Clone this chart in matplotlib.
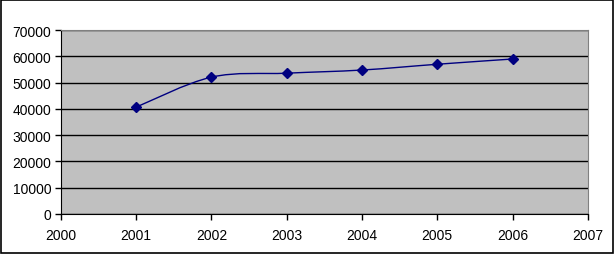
import numpy as np
import matplotlib
matplotlib.use('Agg')
import matplotlib.pyplot as plt
from matplotlib.path import Path
from matplotlib.patches import PathPatch, Rectangle

years = [2001, 2002, 2003, 2004, 2005, 2006]
values = [40700, 52100, 53600, 54800, 57000, 59000]
x_ticks = [2000, 2001, 2002, 2003, 2004, 2005, 2006, 2007]
y_ticks = [0, 10000, 20000, 30000, 40000, 50000, 60000, 70000]

plt.rcParams['font.family'] = ['Liberation Sans', 'DejaVu Sans']

fig = plt.figure(figsize=(6.14, 2.55), dpi=100)
fig.patches.append(Rectangle((0.001, 0.002), 0.997, 0.994, transform=fig.transFigure,
                             fill=False, edgecolor='black', linewidth=1.2))
ax = fig.add_axes([0.0993, 0.157, 0.858, 0.721])
ax.set_facecolor('#c0c0c0')

# smoothed line like Excel (Catmull-Rom as cubic bezier segments)
x = np.array(years, dtype=float)
y = np.array(values, dtype=float)
verts = [(x[0], y[0])]
codes = [Path.MOVETO]
t = 1.0 / 6.0
for i in range(len(x) - 1):
    x0, y0 = (x[i - 1], y[i - 1]) if i > 0 else (x[i], y[i])
    x3, y3 = (x[i + 2], y[i + 2]) if i + 2 < len(x) else (x[i + 1], y[i + 1])
    c1 = (x[i] + (x[i + 1] - x0) * t, y[i] + (y[i + 1] - y0) * t)
    c2 = (x[i + 1] - (x3 - x[i]) * t, y[i + 1] - (y3 - y[i]) * t)
    verts += [c1, c2, (x[i + 1], y[i + 1])]
    codes += [Path.CURVE4] * 3
ax.add_patch(PathPatch(Path(verts, codes), fill=False, edgecolor='#000080', linewidth=1.0, zorder=3))
ax.plot(years, values, linestyle='none', marker='D', markersize=5, color='#000080', zorder=4)

ax.set_xlim(2000, 2007)
ax.set_ylim(0, 70000)
ax.set_xticks(x_ticks)
ax.set_yticks(y_ticks)
ax.set_xticklabels([str(v) for v in x_ticks])
ax.set_yticklabels([str(v) for v in y_ticks])
ax.yaxis.grid(True, color='black', linewidth=1.0)
ax.set_axisbelow(True)
ax.tick_params(labelsize=10, length=4, width=1, direction='out', pad=3)
ax.tick_params(axis='x', pad=6)
for s in ['top', 'right']:
    ax.spines[s].set_color('#808080')
for s in ['left', 'bottom']:
    ax.spines[s].set_color('black')

fig.savefig('out.png', dpi=100)
